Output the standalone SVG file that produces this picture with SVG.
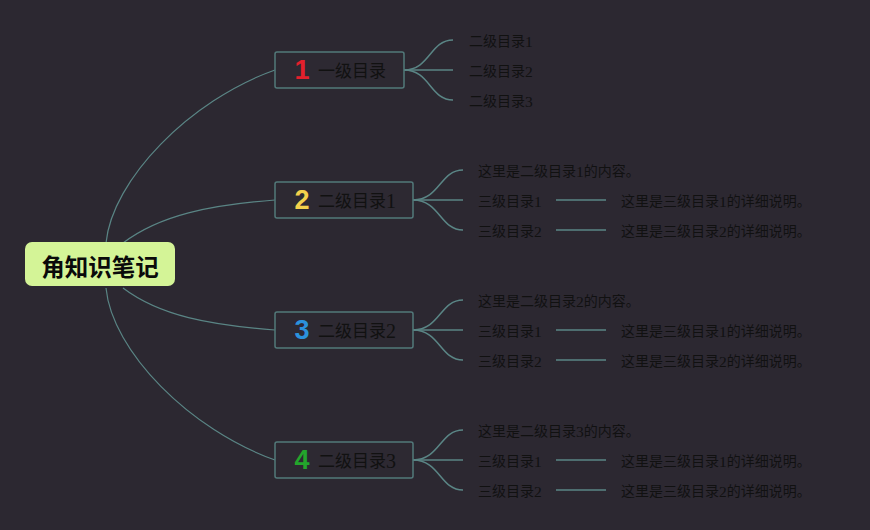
<svg xmlns="http://www.w3.org/2000/svg" width="870" height="530" viewBox="0 0 870 530">
<style>
.bg{fill:#2c2831}
.conn path{fill:none;stroke:#5a8585;stroke-width:1.2}
.conn .fan{stroke-width:1.5}
.conn .dash{stroke-width:1.5}
.l1 rect{fill:#2d2932;stroke:#52797a;stroke-width:1.5}
.l1 .lbl{font-family:"Liberation Serif","Noto Sans CJK SC",serif;font-size:17px;fill:#111111;dominant-baseline:central}
.l1 .lbl .d{font-size:20px}
.num{font-family:"Liberation Sans","Noto Sans",sans-serif;font-size:27px;font-weight:bold;dominant-baseline:central}
.leaf{font-family:"Liberation Serif","Noto Sans CJK SC",serif;font-size:14px;fill:#111111;dominant-baseline:central}
.leaf .d{font-size:15.5px}
.root text{font-family:"Noto Sans CJK SC",sans-serif;font-size:23.5px;font-weight:bold;fill:#0a0a0a;dominant-baseline:central;text-anchor:middle}
</style>
<rect class="bg" x="0" y="0" width="870" height="530"/>
<g class="conn" id="connectors">
<path d="M106,243 C112,180 190,100 275,70"/>
<path d="M123,243 C160,215 210,205 275,200"/>
<path d="M123,288 C160,316 210,325 275,330"/>
<path d="M106,288 C112,351 190,430 275,460"/>
<path class="fan" d="M404,70 C430,70 430,40 453,40"/>
<path class="fan" d="M404,70 L453,70"/>
<path class="fan" d="M404,70 C430,70 430,100 453,100"/>
<path class="fan" d="M413,200 C440,200 440,170 463,170"/>
<path class="fan" d="M413,200 L463,200"/>
<path class="fan" d="M413,200 C440,200 440,230 463,230"/>
<path class="fan" d="M413,330 C440,330 440,300 463,300"/>
<path class="fan" d="M413,330 L463,330"/>
<path class="fan" d="M413,330 C440,330 440,360 463,360"/>
<path class="fan" d="M413,460 C440,460 440,430 463,430"/>
<path class="fan" d="M413,460 L463,460"/>
<path class="fan" d="M413,460 C440,460 440,490 463,490"/>
<path class="dash" d="M556,200 H606 M556,230 H606 M556,330 H606 M556,360 H606 M556,460 H606 M556,490 H606"/>
</g>
<g class="root" id="root">
<rect x="25" y="242" width="150" height="44" rx="7" fill="#d4f497"/>
<text x="100" y="266">角知识笔记</text>
</g>
<g class="l1" id="n1">
<rect x="275" y="52" width="129" height="36" rx="2"/>
<text class="num" x="302" y="70" fill="#e3202c" text-anchor="middle">1</text>
<text class="lbl" x="318" y="71">一级目录</text>
</g>
<g class="l1" id="n2">
<rect x="275" y="182" width="138" height="36" rx="2"/>
<text class="num" x="302" y="200" fill="#f3d04c" text-anchor="middle">2</text>
<text class="lbl" x="318" y="201">二级目录<tspan class="d">1</tspan></text>
</g>
<g class="l1" id="n3">
<rect x="275" y="312" width="138" height="36" rx="2"/>
<text class="num" x="302" y="330" fill="#2b92dc" text-anchor="middle">3</text>
<text class="lbl" x="318" y="331">二级目录<tspan class="d">2</tspan></text>
</g>
<g class="l1" id="n4">
<rect x="275" y="442" width="138" height="36" rx="2"/>
<text class="num" x="302" y="460" fill="#23a52c" text-anchor="middle">4</text>
<text class="lbl" x="318" y="461">二级目录<tspan class="d">3</tspan></text>
</g>
<g id="n1-children">
<text class="leaf" x="469" y="41">二级目录<tspan class="d">1</tspan></text>
<text class="leaf" x="469" y="71">二级目录<tspan class="d">2</tspan></text>
<text class="leaf" x="469" y="101">二级目录<tspan class="d">3</tspan></text>
</g>
<g id="n2-children">
<text class="leaf" x="478" y="171">这里是二级目录<tspan class="d">1</tspan>的内容。</text>
<text class="leaf" x="478" y="201">三级目录<tspan class="d">1</tspan></text>
<text class="leaf" x="478" y="231">三级目录<tspan class="d">2</tspan></text>
<text class="leaf" x="621" y="201">这里是三级目录<tspan class="d">1</tspan>的详细说明。</text>
<text class="leaf" x="621" y="231">这里是三级目录<tspan class="d">2</tspan>的详细说明。</text>
</g>
<g id="n3-children">
<text class="leaf" x="478" y="301">这里是二级目录<tspan class="d">2</tspan>的内容。</text>
<text class="leaf" x="478" y="331">三级目录<tspan class="d">1</tspan></text>
<text class="leaf" x="478" y="361">三级目录<tspan class="d">2</tspan></text>
<text class="leaf" x="621" y="331">这里是三级目录<tspan class="d">1</tspan>的详细说明。</text>
<text class="leaf" x="621" y="361">这里是三级目录<tspan class="d">2</tspan>的详细说明。</text>
</g>
<g id="n4-children">
<text class="leaf" x="478" y="431">这里是二级目录<tspan class="d">3</tspan>的内容。</text>
<text class="leaf" x="478" y="461">三级目录<tspan class="d">1</tspan></text>
<text class="leaf" x="478" y="491">三级目录<tspan class="d">2</tspan></text>
<text class="leaf" x="621" y="461">这里是三级目录<tspan class="d">1</tspan>的详细说明。</text>
<text class="leaf" x="621" y="491">这里是三级目录<tspan class="d">2</tspan>的详细说明。</text>
</g>
</svg>
